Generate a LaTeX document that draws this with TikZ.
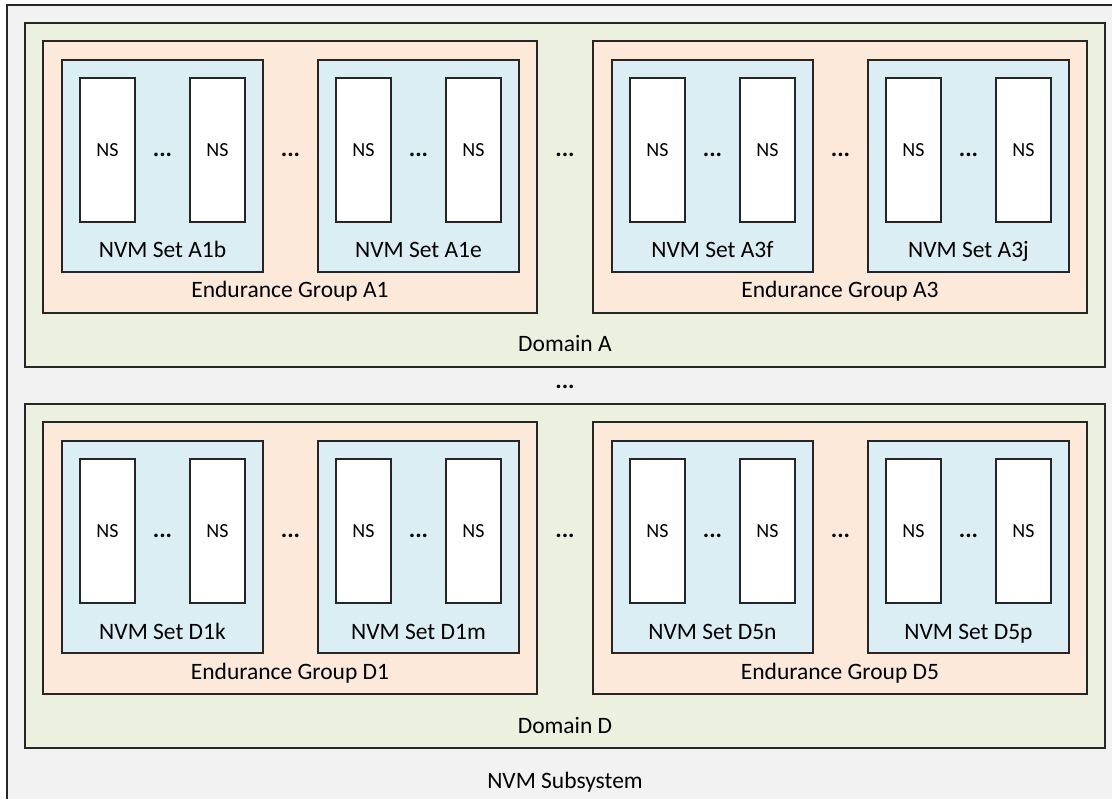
\documentclass[tikz,border=0pt]{standalone}
\usepackage{fontspec}
\setmainfont{Carlito}
\usetikzlibrary{calc}

\definecolor{subsysfill}{HTML}{F2F2F2}
\definecolor{domainfill}{HTML}{EBF1DE}
\definecolor{groupfill}{HTML}{FDE9D9}
\definecolor{setfill}{HTML}{DAEEF3}

\tikzset{
  box/.style={rectangle, draw=black!85, line width=1.3pt, inner sep=0pt, outer sep=0pt, anchor=north west},
  subsysbox/.style={box, fill=subsysfill, minimum width=1116pt, minimum height=806pt},
  domainbox/.style={box, fill=domainfill, minimum width=1080pt, minimum height=344pt},
  groupbox/.style={box, fill=groupfill, minimum width=494pt, minimum height=272pt},
  setbox/.style={box, fill=setfill, minimum width=201pt, minimum height=212pt},
  nsbox/.style={box, fill=white, minimum width=55pt, minimum height=144pt},
  lbl/.style={anchor=base, inner sep=0pt, font=\fontsize{23.5}{28}\selectfont},
  nslbl/.style={anchor=center, inner sep=0pt, font=\fontsize{20}{24}\selectfont},
  dots/.style={anchor=center, inner sep=0pt, font=\bfseries\fontsize{24}{28}\selectfont},
}

\begin{document}
\begin{tikzpicture}[x=1pt, y=-1pt]
  \useasboundingbox (0,0) rectangle (1112,799);
  \clip (0,0) rectangle (1112,799);

  % subsystem, clipped on the right and at the bottom
  \node [subsysbox] (sub) at (7,5) {};

  % domains
  \foreach \d/\dy in {A/23, D/404} {
    \node [domainbox] (d\d) at (25,\dy) {};
    \node [lbl] (d\d-lbl) at ([yshift=15pt]d\d.south) {Domain \d};
  }

  % endurance groups and their NVM sets
  \foreach \g/\gx/\gy/\sa/\sb in {A1/43/23/b/e, A3/593/23/f/j, D1/43/404/k/m, D5/593/404/n/p} {
    \node [groupbox] (\g) at (\gx,\gy+18) {};
    \node [lbl] (\g-lbl) at ([yshift=15pt]\g.south) {Endurance Group \g};
    \foreach \s/\sx in {\sa/19, \sb/275} {
      \node [setbox] (\g\s) at (\gx+\sx,\gy+37) {};
      \node [lbl] (\g\s-lbl) at ([yshift=14pt]\g\s.south) {NVM Set \g\s};
      \node [nsbox] (\g\s-1) at (\gx+\sx+18,\gy+55) {};
      \node [nsbox] (\g\s-2) at (\gx+\sx+128,\gy+55) {};
      \node [nslbl] (\g\s-1-lbl) at (\g\s-1.center) {NS};
      \node [nslbl] (\g\s-2-lbl) at (\g\s-2.center) {NS};
      \node [dots] (\g\s-dots) at ($(\g\s-1.east)!0.5!(\g\s-2.west)+(0,5)$) {...};
    }
    \node [dots] (\g-dots) at ($(\g\sa.east)!0.5!(\g\sb.west)+(0,-11)$) {...};
  }

  % dots between groups and domains
  \node [dots] (A-dots) at ($(A1.east)!0.5!(A3.west)+(0,-22)$) {...};
  \node [dots] (D-dots) at ($(D1.east)!0.5!(D5.west)+(0,-22)$) {...};
  \node [dots] (dom-dots) at ($(dA.south)!0.5!(dD.north)+(0,1)$) {...};

  \node [lbl] (sub-lbl) at ([yshift=-40pt]dD.south) {NVM Subsystem};
\end{tikzpicture}
\end{document}
